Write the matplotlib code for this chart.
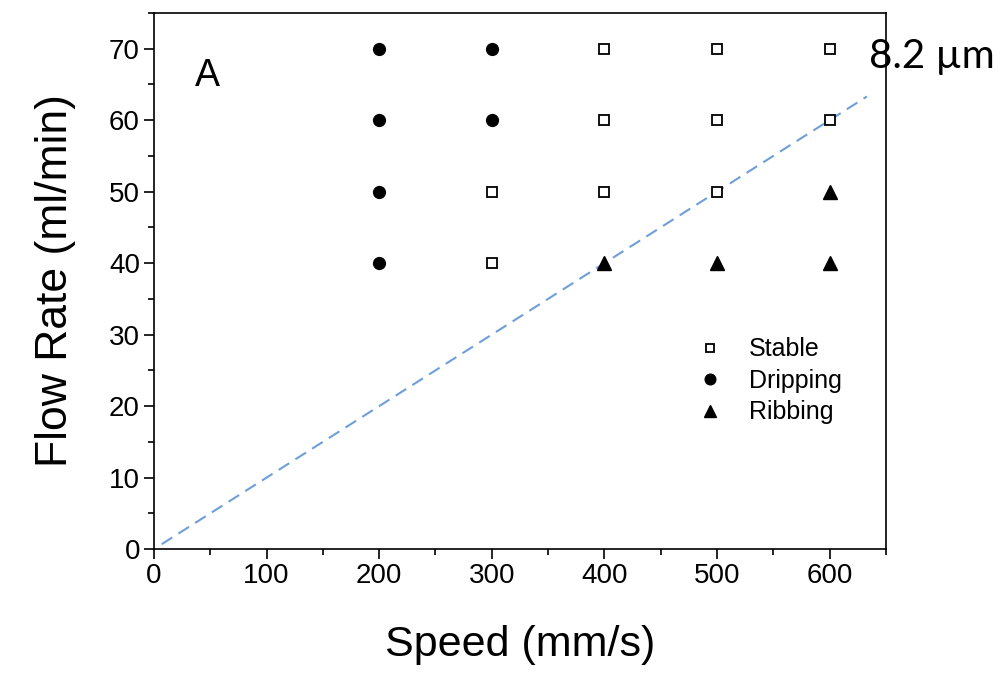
import numpy as np
import matplotlib
matplotlib.use('Agg')
from matplotlib import pyplot as plt
from matplotlib.ticker import MultipleLocator

plt.rcParams['font.family'] = ['Liberation Sans', 'DejaVu Sans']

# data
stable_x = [300, 300, 400, 400, 400, 500, 500, 500, 600, 600]
stable_y = [40, 50, 50, 60, 70, 50, 60, 70, 60, 70]
drip_x = [200, 200, 200, 200, 300, 300]
drip_y = [40, 50, 60, 70, 60, 70]
rib_x = [400, 500, 600, 600]
rib_y = [40, 40, 40, 50]
line_x = [7, 633]
line_y = [0.7, 63.3]

fig = plt.figure(figsize=(9.99, 6.73), dpi=100)
ax = fig.add_axes([0.154, 0.184, 0.733, 0.797])

ax.plot(line_x, line_y, '--', color='#6f9fd8', lw=1.5, dashes=(6, 3.5))
ax.plot(stable_x, stable_y, 's', ms=6.5, mfc='white', mec='black', mew=1.3,
        ls='none', label='Stable')
ax.plot(drip_x, drip_y, 'o', ms=8.5, color='black', ls='none', label='Dripping')
ax.plot(rib_x, rib_y, '^', ms=9.5, color='black', ls='none', label='Ribbing')

ax.set_xlim(0, 650)
ax.set_ylim(0, 75)
ax.xaxis.set_major_locator(MultipleLocator(100))
ax.xaxis.set_minor_locator(MultipleLocator(50))
ax.yaxis.set_major_locator(MultipleLocator(10))
ax.yaxis.set_minor_locator(MultipleLocator(5))
ax.tick_params(which='both', direction='out', width=1.2, labelsize=20, top=False, right=False)
ax.tick_params(which='major', length=7, pad=3)
ax.tick_params(which='minor', length=4)
for s in ax.spines.values():
    s.set_linewidth(1.2)

ax.set_xlabel('Speed (mm/s)', fontsize=31, labelpad=26)
ax.set_ylabel('Flow Rate (ml/min)', fontsize=32, labelpad=24)

ax.text(48, 66.2, 'A', fontsize=27, ha='center', va='center')
ax.text(635, 68.9, '8.2 µm', fontsize=29, ha='left', va='center',
        family=['Lato', 'DejaVu Sans'], clip_on=False)

ax.legend(loc='upper left', bbox_to_anchor=(0.695, 0.437), frameon=False,
          fontsize=18, handletextpad=0.55, labelspacing=0.3, markerscale=0.9)

fig.savefig('out.png', dpi=100)
